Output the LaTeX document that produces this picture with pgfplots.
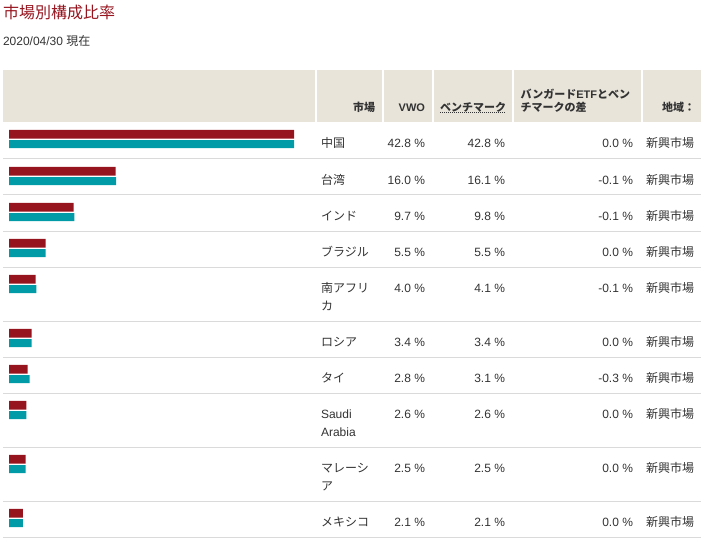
\documentclass[border=0pt]{standalone}
\usepackage{fontspec}
\setmainfont{Liberation Sans}
\newfontfamily\jp{Noto Sans CJK JP}
\usepackage{pgfplots}
\pgfplotsset{compat=1.18}

\definecolor{vred}{RGB}{150,20,30}
\definecolor{vteal}{RGB}{0,155,166}
\definecolor{hdr}{RGB}{232,228,218}
\definecolor{sepgray}{RGB}{218,218,218}
\definecolor{txt}{RGB}{51,51,51}

% one table row: top edge (px), name line 1, name line 2, VWO, benchmark, difference
\newcommand{\tablerow}[6]{%
  \node[anchor=base west] at (321,{#1+25.7}) {#2};
  \node[anchor=base west] at (321,{#1+43.7}) {#3};
  \node[anchor=base east] at (425,{#1+25.7}) {#4 \%};
  \node[anchor=base east] at (505,{#1+25.7}) {#5 \%};
  \node[anchor=base east] at (633,{#1+25.7}) {#6 \%};
  \node[anchor=base west] at (646,{#1+25.7}) {\jp 新興市場};
}

\begin{document}
\begin{tikzpicture}[x=0.75pt, y=-0.75pt, every node/.style={inner sep=0pt, outer sep=0pt, text=txt, font=\fontsize{9pt}{11pt}\selectfont}]
  \path[use as bounding box] (0,0) rectangle (715,542);

  % title
  \node[anchor=base west, text=vred, font=\fontsize{12pt}{14pt}\selectfont] at (3,18.8) {\jp 市場別構成比率};
  \node[anchor=base west] at (3,45.5) {2020/04/30 {\jp 現在}};

  % header cells
  \fill[hdr] (3,70) rectangle (315,122);
  \fill[hdr] (317,70) rectangle (382,122);
  \fill[hdr] (384,70) rectangle (432,122);
  \fill[hdr] (434,70) rectangle (512,122);
  \fill[hdr] (514,70) rectangle (641,122);
  \fill[hdr] (643,70) rectangle (701,122);

  % row separators
  \foreach \yy in {159,195,231,267,321,357,393,447,501,537}
    \draw[sepgray, line width=0.75pt] (3,\yy) -- (701,\yy);

  \begin{axis}[
      at={(0,0)}, anchor=north west,
      width=536.25pt, height=406.5pt, scale only axis,
      hide axis, clip=false,
      xmin=-1.3514, xmax=106.006,
      ymin=0, ymax=542, y dir=reverse,
    ]
    % VWO
    \addplot[xbar, bar shift=0pt, bar width=8.7, fill=vred, draw=none] coordinates {
      (42.8,134.2) (16.0,171.2) (9.7,207.2) (5.5,243.2) (4.0,279.2)
      (3.4,333.2) (2.8,369.2) (2.6,405.2) (2.5,459.2) (2.1,513.2)
    };
    % benchmark
    \addplot[xbar, bar shift=0pt, bar width=8, fill=vteal, draw=none] coordinates {
      (42.8,144) (16.1,181) (9.8,217) (5.5,253) (4.1,289)
      (3.4,343) (3.1,379) (2.6,415) (2.5,469) (2.1,523)
    };
  \end{axis}

  % header texts
  \begin{scope}[every node/.append style={font=\fontsize{8.25pt}{10pt}\selectfont\bfseries}]
    \node[anchor=base east] at (375,111.5) {\jp 市場};
    \node[anchor=base east] at (425,111.5) {VWO};
    \node[anchor=base west] at (440,111.5) {\jp ベンチマーク};
    \node[anchor=base west] at (520.7,98.5) {{\jp バンガード}ETF{\jp とベン}};
    \node[anchor=base west] at (520.7,111.5) {\jp チマークの差};
    \node[anchor=base east] at (695,111.5) {\jp 地域：};
  \end{scope}
  \draw[txt, line width=0.75pt, dash pattern=on 0.75pt off 0.75pt] (440,113) -- (505,113);

  % rows
  \tablerow{122}{\jp 中国}{}{42.8}{42.8}{0.0}
  \tablerow{159}{\jp 台湾}{}{16.0}{16.1}{-0.1}
  \tablerow{195}{\jp インド}{}{9.7}{9.8}{-0.1}
  \tablerow{231}{\jp ブラジル}{}{5.5}{5.5}{0.0}
  \tablerow{267}{\jp 南アフリ}{\jp カ}{4.0}{4.1}{-0.1}
  \tablerow{321}{\jp ロシア}{}{3.4}{3.4}{0.0}
  \tablerow{357}{\jp タイ}{}{2.8}{3.1}{-0.3}
  \tablerow{393}{Saudi}{Arabia}{2.6}{2.6}{0.0}
  \tablerow{447}{\jp マレーシ}{\jp ア}{2.5}{2.5}{0.0}
  \tablerow{501}{\jp メキシコ}{}{2.1}{2.1}{0.0}
\end{tikzpicture}
\end{document}
